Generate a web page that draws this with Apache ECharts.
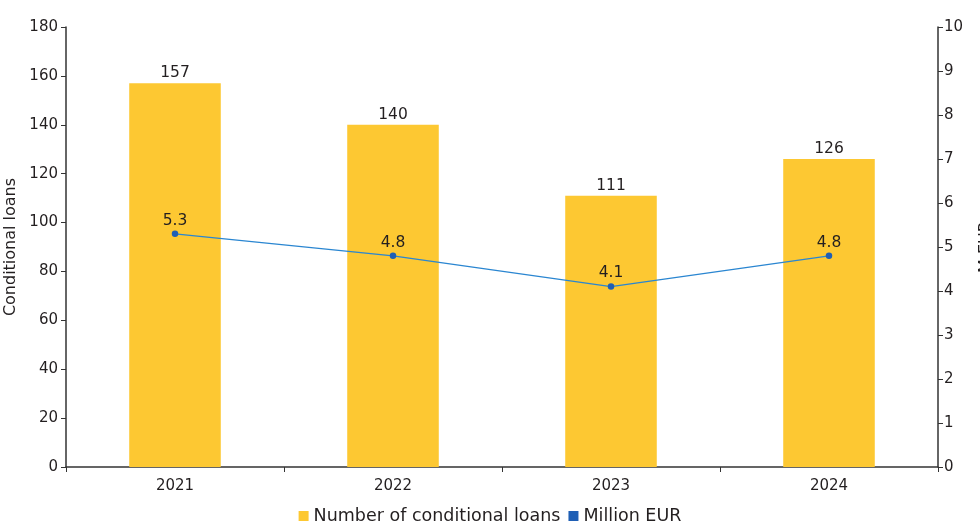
<!DOCTYPE html>
<html><head><meta charset="utf-8">
<script src="https://cdn.jsdelivr.net/npm/echarts@6/dist/echarts.min.js"></script>
<style>html,body{margin:0;padding:0;background:#fff}#c{width:980px;height:527px}</style>
</head><body><div id="c"></div>
<script>
const categories = ['2021','2022','2023','2024'];
const loans = [157, 140, 111, 126];
const millionEur = [5.3, 4.8, 4.1, 4.8];
const FONT = 'DejaVu Sans';
const TXT = '#231f20';
const chart = echarts.init(document.getElementById('c'));
chart.setOption({
  animation: false,
  textStyle: {fontFamily: FONT},
  grid: {left: 66, right: 42, top: 27, bottom: 60, containLabel: false, outerBoundsMode: 'none'},
  legend: {
    bottom: -3, left: 'center', itemWidth: 10, itemHeight: 10, itemGap: 8,
    icon: 'rect',
    textStyle: {fontFamily: FONT, fontSize: 17.5, color: TXT},
    data: ['Number of conditional loans', 'Million EUR']
  },
  xAxis: {
    type: 'category', data: categories,
    axisLine: {lineStyle: {color: '#333', width: 1.5}},
    axisTick: {show: true, length: 5, lineStyle: {color: '#333'}},
    axisLabel: {fontFamily: FONT, fontSize: 15, color: TXT, margin: 12}
  },
  yAxis: [{
    type: 'value', min: 0, max: 180, interval: 20,
    name: 'Conditional loans', nameLocation: 'middle', nameGap: 42, nameRotate: 90,
    nameTextStyle: {fontFamily: FONT, fontSize: 16, color: TXT},
    axisLine: {show: true, lineStyle: {color: '#333', width: 1.5}},
    axisTick: {show: true, length: 5, lineStyle: {color: '#333'}},
    axisLabel: {fontFamily: FONT, fontSize: 15, color: TXT, margin: 8},
    splitLine: {show: false}
  }, {
    type: 'value', min: 0, max: 10, interval: 1,
    name: 'M EUR', nameLocation: 'middle', nameGap: 40, nameRotate: 90,
    nameTextStyle: {fontFamily: FONT, fontSize: 16, color: TXT},
    axisLine: {show: true, lineStyle: {color: '#333', width: 1.5}},
    axisTick: {show: true, length: 5, lineStyle: {color: '#333'}},
    axisLabel: {fontFamily: FONT, fontSize: 15, color: TXT, margin: 6},
    splitLine: {show: false}
  }],
  series: [{
    name: 'Number of conditional loans', type: 'bar', data: loans,
    barWidth: '42%',
    itemStyle: {color: '#FDC832'},
    label: {show: true, position: 'top', fontFamily: FONT, fontSize: 15.5, color: TXT, distance: 2}
  }, {
    name: 'Million EUR', type: 'line', yAxisIndex: 1, data: millionEur,
    symbol: 'circle', symbolSize: 6.5,
    lineStyle: {color: '#2a86d1', width: 1.3},
    itemStyle: {color: '#1f5fb5'},
    label: {show: true, position: 'top', fontFamily: FONT, fontSize: 15.5, color: TXT, distance: 2}
  }]
});
</script></body></html>
